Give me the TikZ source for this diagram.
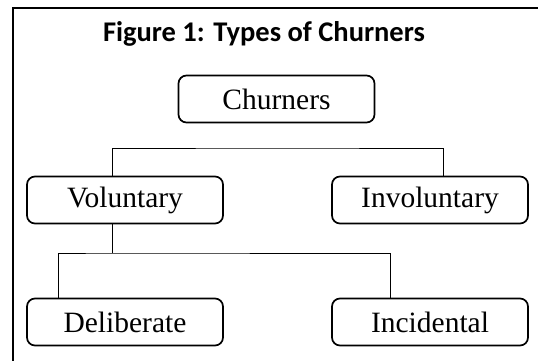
\documentclass[tikz,border=0pt]{standalone}
\usepackage{fontspec}
\setmainfont{Liberation Serif}
\newfontfamily\titlefont{Carlito}
\begin{document}
\begin{tikzpicture}[x=1pt,y=-1pt,
    box/.style={draw,rounded corners=8pt,line width=1.7pt,minimum width=196pt,minimum height=47pt,inner sep=0pt,font=\fontsize{29.5}{32}\selectfont},
    conn/.style={line width=0.9pt}]
      \useasboundingbox (0,0) rectangle (538,361);
      \draw[line width=2.2pt] (13,362) -- (13,8) -- (539,8);
      \node[font=\titlefont\bfseries\fontsize{28.5}{30}\selectfont] (title) at (264,34) {Figure 1: Types of Churners};
      \node[box] (churn) at (276.5,99) {Churners};
      \node[box] (vol) at (125,200) {Voluntary};
      \node[box] (inv) at (430,200) {Involuntary};
      \node[box] (del) at (125,322) {Deliberate};
      \node[box] (inc) at (430,322) {Incidental};
      \coordinate (bar) at (277,148);
      \coordinate (fork) at (112,253);
      \draw[conn] ([xshift=-13pt]vol.north) |- (bar) -| ([xshift=13pt]inv.north);
      \draw[conn] ([xshift=-13pt]vol.south) -- (fork);
      \draw[conn] ([xshift=-67pt]del.north) |- (fork) -| ([xshift=-40pt]inc.north);
    \end{tikzpicture}
\end{document}
